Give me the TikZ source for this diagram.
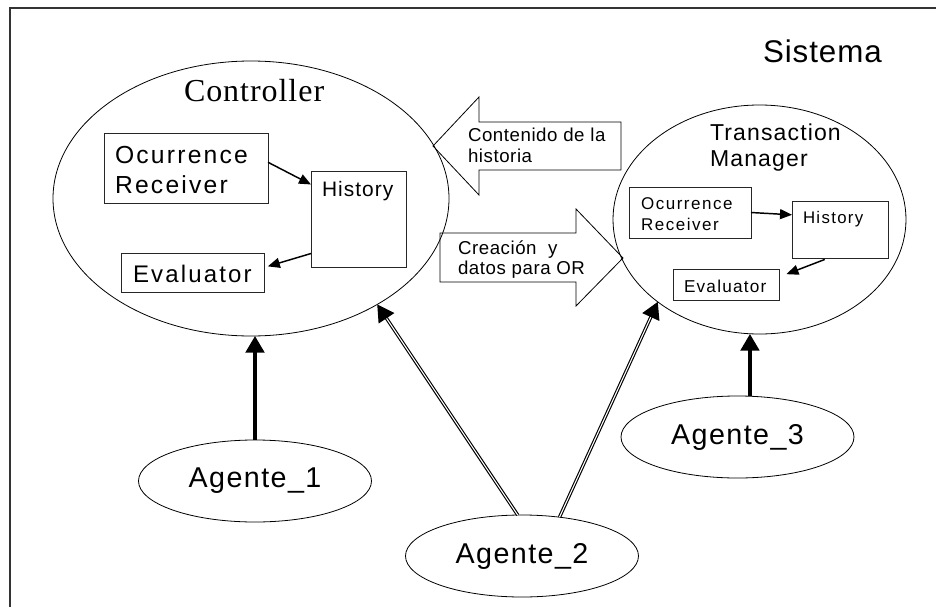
\documentclass[tikz,border=0pt]{standalone}
\usepackage{fontspec}
\setmainfont{Liberation Sans}
\newfontfamily\serifface{Liberation Serif}
\usetikzlibrary{arrows.meta,shapes.geometric}
% size, baseline skip, tracking
\newcommand\fs[3]{\fontsize{#1}{#2}\selectfont\addfontfeatures{LetterSpace=#3}}
\newcommand\lines[1]{\begin{tabular}[t]{@{}l@{}}#1\end{tabular}}

\begin{document}
\begin{tikzpicture}[x=0.75pt,y=-0.75pt,
  oval/.style={draw, ellipse, inner sep=0pt, outer sep=0pt, line width=0.6pt},
  agent/.style={oval, minimum width=174.75pt, minimum height=61.5pt,
                font={\fs{21.5}{24}{5}}},
  box/.style={draw=black!85, rectangle, inner sep=0pt, outer sep=0pt, line width=0.75pt},
  txt/.style={anchor=base west, inner sep=0pt, outer sep=0pt},
  flow/.style={line width=1.1pt, -{Triangle[length=9pt,width=7.5pt]}},
  agentlink/.style={line width=2.4pt, -{Triangle[length=12.5pt,width=14pt]}},
  agentlink2/.style={double, double distance=0.8pt, line width=0.85pt,
                     -{Triangle[length=12.5pt,width=14pt]}},
  blockarrow/.style={line width=0.6pt, line join=miter}
]
\useasboundingbox (0,0) rectangle (936,607);

% system frame
\draw[line width=0.8pt, black!80] (10,607) -- (10,8) -- (936,8);
\node[txt, font={\fs{23.5}{27}{3}}] (sys) at (763,62) {Sistema};

% Controller
\node[oval, minimum width=297pt, minimum height=206.25pt] (ctrl) at (251,198.5) {};
\node[txt, font={\serifface\fs{24}{28}{3}}] (ctrlt) at (184,101) {Controller};
\node[box, minimum width=123pt, minimum height=52.5pt] (or1) at (186,168) {};
\node[txt, font={\fs{18.5}{22.5}{9}}] (or1t) at (115,163) {\lines{Ocurrence\\Receiver}};
\node[box, minimum width=71.25pt, minimum height=72pt] (h1) at (358.5,219) {};
\node[txt, font={\fs{15.7}{18}{5}}] (h1t) at (322,196) {History};
\node[box, minimum width=107.25pt, minimum height=29.25pt] (ev1) at (192.5,272.5) {};
\node[txt, font={\fs{18}{21}{9}}] (ev1t) at (133,282) {Evaluator};
\draw[flow] (or1.4) -- (h1.144);
\draw[flow, shorten >=3pt] (h1.216) -- (ev1.4);

% Transaction Manager
\node[oval, minimum width=219.75pt, minimum height=171.75pt] (tm) at (759.5,219.5) {};
\node[txt, font={\fs{17.25}{19.5}{5}}] (tmt) at (710,140) {\lines{Transaction\\Manager}};
\node[box, minimum width=91.5pt, minimum height=38.25pt] (or2) at (690,212.5) {};
\node[txt, font={\fs{12.75}{15.75}{9}}] (or2t) at (641,209) {\lines{Ocurrence\\Receiver}};
\node[box, minimum width=72pt, minimum height=42.75pt] (h2) at (840,229.5) {};
\node[txt, font={\fs{12.6}{15}{8}}] (h2t) at (803,223) {History};
\node[box, minimum width=79.5pt, minimum height=23.25pt] (ev2) at (726,284.5) {};
\node[txt, font={\fs{12.9}{15}{7}}] (ev2t) at (684,292) {Evaluator};
\draw[flow] (or2.east) -- (h2.163);
\draw[flow, shorten <=3pt, shorten >=6pt] (h2.248) -- (ev2.8);

% block arrows between the two components
\draw[blockarrow] (621,122) -- (479,122) -- (479,97) -- (433,146) -- (479,195)
  -- (479,170) -- (621,170) -- cycle;
\node[txt, font={\fs{14}{15.75}{3}}] (back) at (468,141) {\lines{Contenido de la\\historia}};
\draw[blockarrow] (440,233) -- (576,233) -- (576,209) -- (623,258) -- (576,306)
  -- (576,282) -- (440,282) -- cycle;
\node[txt, font={\fs{14}{15}{3}}] (fwd) at (458,254) {\lines{Creación\ \ y\\datos para OR}};

% agents
\node[agent] (a1) at (255,481) {Agente\_1};
\node[agent] (a2) at (522,556) {Agente\_2};
\node[agent] (a3) at (737.5,437) {Agente\_3};

\draw[agentlink] (a1.north) -- (a1.north |- ctrl.south);
\draw[agentlink2] (a2.96) -- (ctrl.-40);
\draw[agentlink2] (a2.46) -- (tm.-141);
\draw[agentlink] (a3.73) -- (a3.73 |- tm.south);
\end{tikzpicture}
\end{document}
